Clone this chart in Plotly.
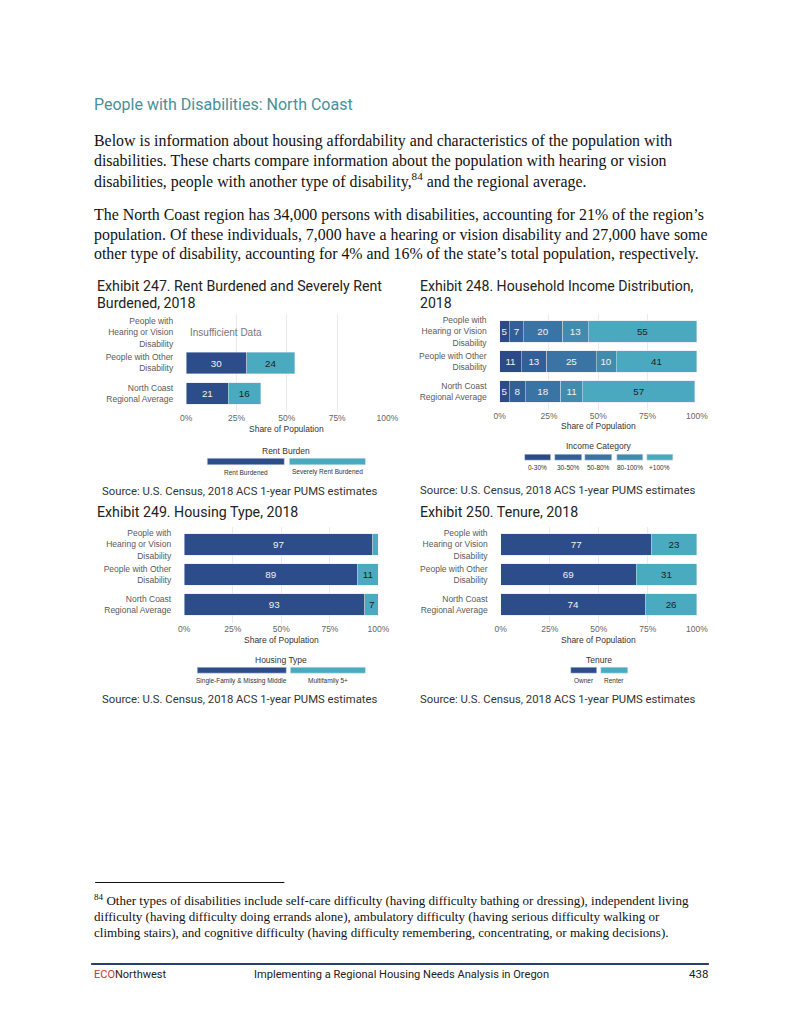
import plotly.graph_objects as go

# ---------------- data ----------------
categories = ["People with<br>Hearing or Vision<br>Disability",
              "People with Other<br>Disability",
              "North Coast<br>Regional Average"]

# Exhibit 247 - rent burden (first row: insufficient data)
rent_burdened = [None, 30, 21]
severely_rent_burdened = [None, 24, 16]

# Exhibit 248 - household income distribution
income_labels = ["0-30%", "30-50%", "50-80%", "80-100%", "+100%"]
income_0_30 = [5, 11, 5]
income_30_50 = [7, 13, 8]
income_50_80 = [20, 25, 18]
income_80_100 = [13, 10, 11]
income_100_plus = [55, 41, 57]

# Exhibit 249 - housing type
housing_labels = ["Single-Family & Missing Middle", "Multifamily 5+"]
housing_single_family = [97, 89, 93]
housing_multifamily = [3, 11, 7]
housing_multifamily_labelled = [False, True, True]

# Exhibit 250 - tenure
tenure_labels = ["Owner", "Renter"]
tenure_owner = [77, 69, 74]
tenure_renter = [23, 31, 26]

x_ticks = [0, 25, 50, 75, 100]
x_tick_labels = ["0%", "25%", "50%", "75%", "100%"]

# ---------------- styling ----------------
W, H = 800, 1035
DARK = "#2C4C8A"
TEAL = "#4AAABF"
INCOME_COLORS = ["#2C4A88", "#335F99", "#3A74A5", "#418BAD", "#4AA9BF"]
LIGHT_TXT = "#F2F2F2"
DARK_TXT = "#1E1E1E"
SANS = "Liberation Sans, Arial, sans-serif"
TITLE_FONT = "Roboto, Liberation Sans, sans-serif"
SERIF = "Liberation Serif, serif"

# page-pixel -> paper-fraction (calibrated to how the page is displayed)
OFF_X, SPAN_X, OFF_Y = 13.0, 782.0, 6.5


def px(x):
    return (x - OFF_X) / SPAN_X


def py(y):
    return 1 - (y - OFF_Y) / H


fig = go.Figure()
annotations = []
shapes = []


def txt(x, y, text, size, color="#222", family=SANS, xanchor="left", yanchor="middle"):
    annotations.append(dict(x=px(x), y=py(y), xref="paper", yref="paper", text=text,
                            showarrow=False, xanchor=xanchor, yanchor=yanchor,
                            borderpad=0, borderwidth=0,
                            font=dict(size=size, color=color, family=family)))


def add_axes(idx, x0, x1, yc_top, spacing):
    top = yc_top - 0.6 * spacing
    bottom = yc_top + 2.6 * spacing
    sfx = "" if idx == 1 else str(idx)
    fig.layout["xaxis" + sfx] = dict(
        domain=[px(x0), px(x1)], anchor="y" + sfx, range=[0, 100],
        tickvals=x_ticks, ticktext=x_tick_labels, showgrid=True,
        gridcolor="#EBEBEB", gridwidth=1, zeroline=False, showline=False,
        tickfont=dict(size=8.5, color="#666", family=SANS), ticks="",
        fixedrange=True)
    fig.layout["yaxis" + sfx] = dict(
        domain=[py(bottom), py(top)], anchor="x" + sfx, type="category",
        categoryorder="array", categoryarray=categories,
        range=[2.6, -0.6], showgrid=False, zeroline=False, showline=False,
        tickfont=dict(size=8.5, color="#5A5A5A", family=SANS), ticks="",
        ticklabelstandoff=12, fixedrange=True)
    return "x" + sfx, "y" + sfx


def seg(values, color, name, xa, ya, text_color, labelled=None):
    cats = [c for c, v in zip(categories, values) if v is not None]
    vals = [v for v in values if v is not None]
    if labelled is None:
        pos = ["inside"] * len(vals)
    else:
        pos = ["inside" if s else "none" for v, s in zip(values, labelled) if v is not None]
    fig.add_trace(go.Bar(
        x=vals, y=cats, orientation="h", name=name, xaxis=xa, yaxis=ya,
        marker=dict(color=color, line=dict(color="rgba(220,228,236,0.8)", width=0.6)),
        text=[str(v) for v in vals], textposition=pos, insidetextanchor="middle", textangle=0,
        textfont=dict(size=9.8, color=text_color, family=SANS),
        width=0.72, showlegend=False, hoverinfo="skip"))


def legend(title, title_x, title_y, boxes, label_y, labels, box_y0, box_y1):
    txt(title_x, title_y, title, 8.5, "#333", SANS, xanchor="center")
    for (bx0, bx1, color), lab in zip(boxes, labels):
        shapes.append(dict(type="rect", xref="paper", yref="paper",
                           x0=px(bx0), x1=px(bx1), y0=py(box_y1), y1=py(box_y0),
                           fillcolor=color, line=dict(color="rgba(220,228,236,0.9)", width=0.6)))
        txt((bx0 + bx1) / 2, label_y, lab, 6.5, "#333", SANS, xanchor="center")


# ---------------- page text ----------------
txt(93, 103, "People with Disabilities: North Coast", 16, "#4A8F9A", TITLE_FONT)
body1 = ["Below is information about housing affordability and characteristics of the population with",
         "disabilities. These charts compare information about the population with hearing or vision",
         "disabilities, people with another type of disability,<sup>84</sup> and the regional average."]
body2 = ["The North Coast region has 34,000 persons with disabilities, accounting for 21% of the region\u2019s",
         "population. Of these individuals, 7,000 have a hearing or vision disability and 27,000 have some",
         "other type of disability, accounting for 4% and 16% of the state\u2019s total population, respectively."]
for i, line in enumerate(body1):
    txt(93, 139 + 20 * i, line, 15.9, "#111", SERIF)
for i, line in enumerate(body2):
    txt(93, 213 + 20 * i, line, 15.9, "#111", SERIF)

# ---------------- Exhibit 247 ----------------
xa, ya = add_axes(1, 185, 386, 331, 30.5)
seg(rent_burdened, DARK, "Rent Burdened", xa, ya, LIGHT_TXT)
seg(severely_rent_burdened, TEAL, "Severely Rent Burdened", xa, ya, DARK_TXT)
annotations.append(dict(x=2, y=categories[0], xref=xa, yref=ya, text="Insufficient Data",
                        showarrow=False, xanchor="left", yanchor="middle",
                        borderpad=0, borderwidth=0,
                        font=dict(size=10, color="#777", family=SANS)))
txt(96, 285, "Exhibit 247. Rent Burdened and Severely Rent", 14.2, "#222", TITLE_FONT)
txt(96, 301, "Burdened, 2018", 14.2, "#222", TITLE_FONT)
txt(285.5, 428, "Share of Population", 8.5, "#333", SANS, xanchor="center")
legend("Rent Burden", 285, 449, [(206, 283, DARK), (288, 364, TEAL)], 471,
       ["Rent Burdened", "Severely Rent Burdened"], 456.7, 463.3)
txt(101, 490, "Source: U.S. Census, 2018 ACS 1-year PUMS estimates", 11.3, "#333", TITLE_FONT)

# ---------------- Exhibit 248 ----------------
xa, ya = add_axes(2, 498, 695, 330, 30)
income_series = [income_0_30, income_30_50, income_50_80, income_80_100, income_100_plus]
for vals, col, lab in zip(income_series, INCOME_COLORS, income_labels):
    seg(vals, col, lab, xa, ya, DARK_TXT if lab == "+100%" else LIGHT_TXT)
txt(418, 285, "Exhibit 248. Household Income Distribution,", 14.1, "#222", TITLE_FONT)
txt(418, 301, "2018", 14.1, "#222", TITLE_FONT)
txt(596.5, 424, "Share of Population", 8.5, "#333", SANS, xanchor="center")
legend("Income Category", 597, 444,
       [(523, 549, INCOME_COLORS[0]), (553, 580, INCOME_COLORS[1]), (583, 610, INCOME_COLORS[2]),
        (615, 641, INCOME_COLORS[3]), (645, 671, INCOME_COLORS[4])],
       466, income_labels, 452.7, 458.7)
txt(418, 489, "Source: U.S. Census, 2018 ACS 1-year PUMS estimates", 11.3, "#333", TITLE_FONT)

# ---------------- Exhibit 249 ----------------
xa, ya = add_axes(3, 183, 377, 543, 30)
seg(housing_single_family, DARK, housing_labels[0], xa, ya, LIGHT_TXT)
seg(housing_multifamily, TEAL, housing_labels[1], xa, ya, DARK_TXT, housing_multifamily_labelled)
txt(96, 510, "Exhibit 249. Housing Type, 2018", 14.2, "#222", TITLE_FONT)
txt(280, 638, "Share of Population", 8.5, "#333", SANS, xanchor="center")
legend("Housing Type", 280, 658, [(196, 285, DARK), (289, 364, TEAL)], 679,
       housing_labels, 665.7, 671.7)
txt(101, 698, "Source: U.S. Census, 2018 ACS 1-year PUMS estimates", 11.3, "#333", TITLE_FONT)

# ---------------- Exhibit 250 ----------------
xa, ya = add_axes(4, 499, 695, 543, 30)
seg(tenure_owner, DARK, tenure_labels[0], xa, ya, LIGHT_TXT)
seg(tenure_renter, TEAL, tenure_labels[1], xa, ya, DARK_TXT)
txt(418, 510, "Exhibit 250. Tenure, 2018", 14.2, "#222", TITLE_FONT)
txt(597, 638, "Share of Population", 8.5, "#333", SANS, xanchor="center")
legend("Tenure", 597, 658, [(569, 595, DARK), (599, 626, TEAL)], 679,
       tenure_labels, 665.7, 671.7)
txt(418, 698, "Source: U.S. Census, 2018 ACS 1-year PUMS estimates", 11.3, "#333", TITLE_FONT)

# ---------------- footnote & footer ----------------
shapes.append(dict(type="line", xref="paper", yref="paper", x0=px(94), x1=px(283),
                   y0=py(881), y1=py(881), line=dict(color="#111", width=1)))
foot = ["<sup>84</sup> Other types of disabilities include self-care difficulty (having difficulty bathing or dressing), independent living",
        "difficulty (having difficulty doing errands alone), ambulatory difficulty (having serious difficulty walking or",
        "climbing stairs), and cognitive difficulty (having difficulty remembering, concentrating, or making decisions)."]
for i, line in enumerate(foot):
    txt(93, 898 + 16.5 * i, line, 13.05, "#111", SERIF)

shapes.append(dict(type="line", xref="paper", yref="paper", x0=px(90), x1=px(707),
                   y0=py(962.5), y1=py(962.5), line=dict(color="#2B3F6E", width=2)))
txt(93, 972.5, "<span style='color:#C8352E'>ECO</span>Northwest", 11, "#222", TITLE_FONT)
txt(400, 972.5, "Implementing a Regional Housing Needs Analysis in Oregon", 11.1, "#222", TITLE_FONT,
    xanchor="center")
txt(706, 972.5, "438", 11.5, "#222", TITLE_FONT, xanchor="right")

fig.update_layout(width=W, height=H, margin=dict(l=0, r=0, t=0, b=0), autosize=False,
                  paper_bgcolor="white", plot_bgcolor="white", barmode="stack",
                  annotations=annotations, shapes=shapes, showlegend=False,
                  uniformtext=dict(mode="show", minsize=6))
fig.write_html("out.html", config={"displayModeBar": False})
